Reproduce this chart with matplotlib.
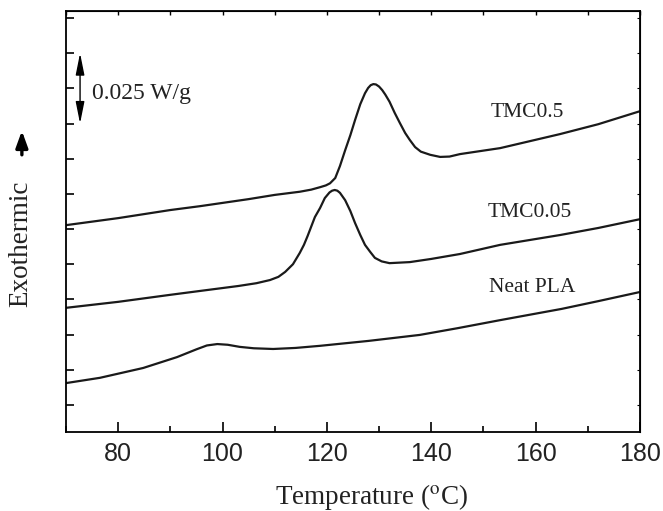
import numpy as np
import matplotlib
matplotlib.use('Agg')
import matplotlib.pyplot as plt
from matplotlib.ticker import MultipleLocator

# DSC cooling curves, heat flow in arbitrary units (1 unit = 0.0125 W/g)
neat_T = [70, 76.5, 84.8, 91.3, 95, 97, 99, 101, 103.3, 106, 109.7, 114, 118.7, 128, 137.8, 145, 153.2, 165, 172, 180]
neat_y = [0.62, 0.77, 1.05, 1.36, 1.58, 1.69, 1.73, 1.71, 1.65, 1.61, 1.59, 1.62, 1.68, 1.82, 1.99, 2.18, 2.41, 2.73, 2.95, 3.21]

tmc005_T = [70, 80, 90, 95.7, 103, 106.5, 109.1, 110.7, 112, 113.5, 114.8, 115.6, 116.3, 117, 117.7, 118.7, 119.6, 120.5,
            121, 121.5, 122, 122.5, 123.5, 124.5, 125.4, 126.4, 127.3, 128.3, 129.2, 130.5, 132, 135.9, 140, 145.5,
            153.2, 164.7, 172, 180]
tmc005_y = [2.76, 2.93, 3.13, 3.24, 3.38, 3.46, 3.55, 3.64, 3.78, 4.0, 4.32, 4.55, 4.80, 5.07, 5.34, 5.60, 5.88, 6.04,
            6.09, 6.11, 6.09, 6.03, 5.82, 5.51, 5.17, 4.83, 4.55, 4.35, 4.18, 4.08, 4.03, 4.06, 4.15, 4.29,
            4.55, 4.83, 5.03, 5.28]

tmc05_T = [70, 80, 90, 95.7, 105, 110, 114.8, 117, 118.7, 119.8, 120.6, 121.6, 122.5, 123.5, 124.5, 125.4, 126.4, 127.3,
           127.9, 128.4, 128.9, 129.4, 130, 130.6, 131.2, 132, 133, 134, 135, 135.9, 136.9, 138, 139.8, 141.7, 143.5,
           145.5, 153.2, 164.7, 172, 180]
tmc05_y = [5.11, 5.31, 5.54, 5.65, 5.85, 5.97, 6.06, 6.12, 6.19, 6.24, 6.30, 6.45, 6.79, 7.24, 7.67, 8.10, 8.55, 8.86,
           9.01, 9.09, 9.12, 9.11, 9.05, 8.95, 8.82, 8.62, 8.30, 8.01, 7.73, 7.53, 7.33, 7.20, 7.11, 7.05, 7.06,
           7.13, 7.30, 7.70, 7.98, 8.35]

labels = ['TMC0.5', 'TMC0.05', 'Neat PLA']
label_pos = [(158.5, 8.32), (158.8, 5.48), (159.3, 3.35)]

serif = 'Liberation Serif'
sans = 'Liberation Sans'

fig = plt.figure(figsize=(6.63, 5.11), dpi=100)
ax = fig.add_axes([0.0995, 0.1546, 0.8658, 0.824])

for T, y in [(neat_T, neat_y), (tmc005_T, tmc005_y), (tmc05_T, tmc05_y)]:
    ax.plot(T, y, color='#1a1a1a', lw=1.6, solid_joinstyle='round')

for lab, (x, y) in zip(labels, label_pos):
    ax.text(x, y, lab, fontsize=15.5, family=serif, ha='center', va='center', color='#222222')

# scale bar
ax.annotate('', xy=(72.7, 10.0), xytext=(72.7, 8.0),
            arrowprops=dict(arrowstyle='<|-|>,head_length=1.1,head_width=0.22', color='black', lw=1.0,
                            mutation_scale=12, shrinkA=0, shrinkB=0))
ax.text(75.0, 8.85, '0.025 W/g', fontsize=17, family=serif, va='center', color='#222222')

ax.set_xlim(70, 180)
ax.set_ylim(-0.77, 11.2)
ax.xaxis.set_major_locator(MultipleLocator(20))
ax.xaxis.set_minor_locator(MultipleLocator(10))
ax.yaxis.set_major_locator(MultipleLocator(1))
ax.set_yticklabels([])
ax.tick_params(axis='x', which='major', direction='in', length=7, width=1.2, labelsize=18, pad=7)
ax.tick_params(axis='x', which='minor', direction='in', length=4, width=1.2)
ax.tick_params(axis='y', which='major', direction='in', length=6, width=1.2)
for lab in ax.get_xticklabels():
    lab.set_family(sans)
    lab.set_color('#222222')
for s in ax.spines.values():
    s.set_linewidth(1.3)

top = ax.secondary_xaxis('top')
top.xaxis.set_major_locator(MultipleLocator(10))
top.tick_params(direction='in', length=3, width=1.0, labeltop=False)
right = ax.secondary_yaxis('right')
right.yaxis.set_major_locator(MultipleLocator(1))
right.tick_params(direction='in', length=2, width=0.8, labelright=False)

fig.text(0.56, 0.027, 'Temperature ($^{\\rm o}$C)', fontsize=19.5, family=serif, ha='center', va='center',
         color='#222222', math_fontfamily='stix')
fig.text(0.031, 0.523, 'Exothermic', fontsize=19.5, family=serif, rotation=90, ha='center', va='center', color='#222222')
fig.add_artist(matplotlib.patches.FancyArrowPatch((0.033, 0.697), (0.033, 0.744), transform=fig.transFigure,
                                                  arrowstyle='-|>,head_length=0.55,head_width=0.2',
                                                  mutation_scale=18, lw=2.4, color='black', shrinkA=0, shrinkB=0))

fig.savefig('out.png', dpi=100)
